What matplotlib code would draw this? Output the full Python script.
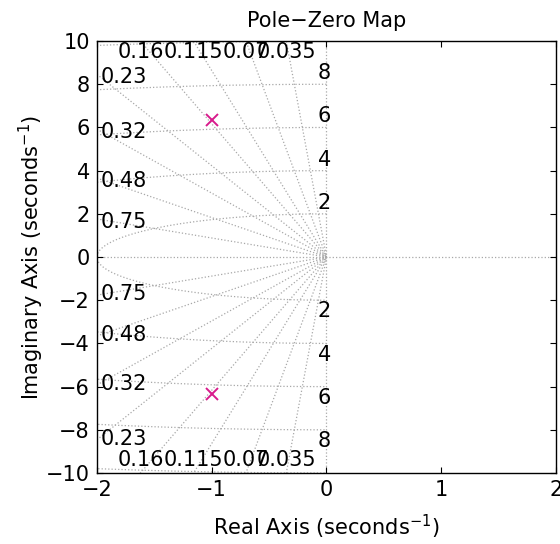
import numpy as np
import matplotlib.pyplot as plt

plt.rcParams['font.family'] = ['DejaVu Sans']

# poles of the system
pole_re = [-1.0, -1.0]
pole_im = [6.35, -6.35]

# grid values (damping ratios and natural frequencies)
zetas = [0.035, 0.07, 0.115, 0.16, 0.23, 0.32, 0.48, 0.75]
zeta_labels = ['0.035', '0.07', '0.115', '0.16', '0.23', '0.32', '0.48', '0.75']
wns = [2, 4, 6, 8, 10]
wn_labels = ['2', '4', '6', '8', '']

xmin, xmax = -2, 2
ymin, ymax = -10, 10
gcol = '#a8a8a8'
fs = 15

fig = plt.figure(figsize=(5.6, 5.44), dpi=100)
ax = fig.add_axes([0.173, 0.1305, 0.82, 0.794])

# damping lines
xs = np.linspace(xmin, 0, 400)
for z, lab in zip(zetas, zeta_labels):
    k = np.sqrt(1 - z**2) / z
    for s in (1, -1):
        ax.plot(xs, -s * k * xs, ':', color=gcol, lw=0.9, zorder=1)
    # label where the line leaves the plot
    if k * 2 < ymax:
        yl = k * 2
        ax.text(xmin + 0.03, yl - 0.12, lab, ha='left', va='center', fontsize=fs)
        ax.text(xmin + 0.03, -yl + 0.05, lab, ha='left', va='center', fontsize=fs)
    else:
        xl = -ymax / k
        ax.text(xl, ymax - 0.05, lab, ha='center', va='top', fontsize=fs)
        ax.text(xl, ymin + 0.15, lab, ha='center', va='bottom', fontsize=fs)

# natural frequency circles
for w, lab in zip(wns, wn_labels):
    th = np.linspace(np.pi / 2, 3 * np.pi / 2, 800)
    ax.plot(w * np.cos(th), w * np.sin(th), ':', color=gcol, lw=0.9, zorder=1)
    if lab:
        ax.text(0.04, w + 0.05, lab, ha='right', va='bottom', fontsize=fs)
        ax.text(0.04, -w - 0.05, lab, ha='right', va='top', fontsize=fs)

# axes lines
ax.axhline(0, ls=':', color=gcol, lw=0.9, zorder=1)
ax.plot([0, 0], [ymin, ymax], ':', color=gcol, lw=0.9, zorder=1)

ax.plot(pole_re, pole_im, 'x', color='#d81b8c', ms=9, mew=1.4, zorder=3)

ax.set_xlim(xmin, xmax)
ax.set_ylim(ymin, ymax)
ax.set_xticks(range(-2, 3))
ax.set_yticks(range(-10, 11, 2))
ax.tick_params(direction='in', top=True, right=True, labelsize=fs, length=4, pad=5)
for sp in ax.spines.values():
    sp.set_linewidth(1.0)

ax.set_title('Pole\u2212Zero Map', fontsize=fs, pad=10)
ax.set_xlabel('Real Axis (seconds$^{-1}$)', fontsize=fs, labelpad=9)
ax.set_ylabel('Imaginary Axis (seconds$^{-1}$)', fontsize=fs, labelpad=0)

fig.savefig('out.png', dpi=100)
